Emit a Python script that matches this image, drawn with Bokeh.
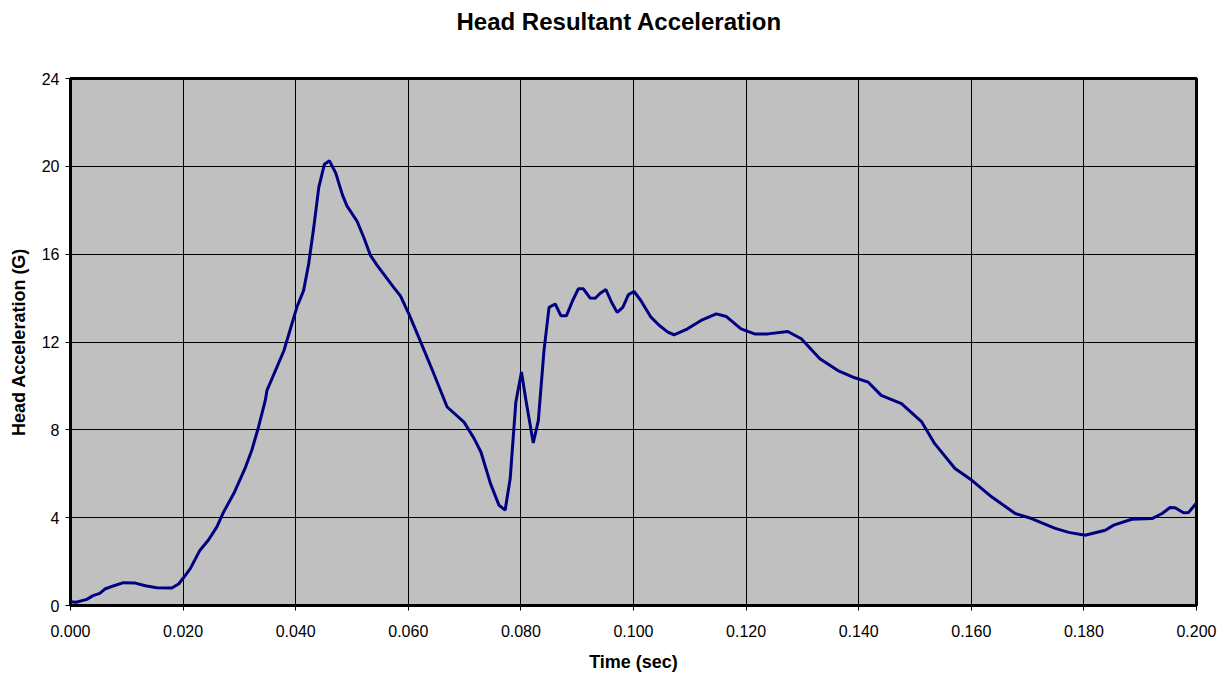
from bokeh.plotting import figure
from bokeh.embed import file_html
from bokeh.resources import INLINE
from bokeh.models import FixedTicker, NumeralTickFormatter, Title

title_text = "Head Resultant Acceleration"
x_label = "Time (sec)"
y_label = "Head Acceleration (G)"

x_ticks = [0.0, 0.02, 0.04, 0.06, 0.08, 0.10, 0.12, 0.14, 0.16, 0.18, 0.20]
y_ticks = [0, 4, 8, 12, 16, 20, 24]

time_s = [0.0000, 0.0010, 0.0029, 0.0040, 0.0052, 0.0061, 0.0076, 0.0094, 0.0115, 0.0133,
          0.0153, 0.0180, 0.0192, 0.0200, 0.0213, 0.0230, 0.0245, 0.0260, 0.0272, 0.0290,
          0.0310, 0.0322, 0.0334, 0.0346, 0.0349, 0.0379, 0.0402, 0.0414, 0.0423, 0.0432,
          0.0441, 0.0451, 0.0460, 0.0471, 0.0483, 0.0491, 0.0509, 0.0521, 0.0533, 0.0545,
          0.0574, 0.0586, 0.0601, 0.0616, 0.0643, 0.0669, 0.0699, 0.0717, 0.0729, 0.0746,
          0.0761, 0.0772, 0.0781, 0.0791, 0.0801, 0.0809, 0.0822, 0.0831, 0.0841, 0.0850,
          0.0861, 0.0871, 0.0881, 0.0892, 0.0902, 0.0911, 0.0923, 0.0932, 0.0941, 0.0951,
          0.0961, 0.0971, 0.0981, 0.0991, 0.1001, 0.1013, 0.1031, 0.1046, 0.1061, 0.1072,
          0.1096, 0.1120, 0.1147, 0.1165, 0.1191, 0.1215, 0.1239, 0.1274, 0.1298, 0.1331,
          0.1363, 0.1393, 0.1417, 0.1440, 0.1476, 0.1512, 0.1535, 0.1571, 0.1601, 0.1636,
          0.1678, 0.1707, 0.1749, 0.1773, 0.1802, 0.1838, 0.1853, 0.1885, 0.1921, 0.1939,
          0.1953, 0.1962, 0.1977, 0.1986, 0.2000]
accel_g = [0.17, 0.15, 0.28, 0.45, 0.55, 0.75, 0.89, 1.04, 1.02, 0.90,
           0.81, 0.80, 0.98, 1.24, 1.69, 2.52, 2.98, 3.58, 4.26, 5.10,
           6.24, 7.07, 8.13, 9.34, 9.80, 11.60, 13.58, 14.34, 15.55, 17.20,
           19.04, 20.10, 20.25, 19.70, 18.70, 18.20, 17.50, 16.76, 15.93, 15.48,
           14.49, 14.10, 13.28, 12.37, 10.70, 9.04, 8.35, 7.60, 6.99, 5.55,
           4.57, 4.34, 5.78, 9.26, 10.63, 9.34, 7.40, 8.43, 11.61, 13.58,
           13.73, 13.20, 13.20, 13.89, 14.42, 14.42, 14.00, 13.99, 14.22, 14.39,
           13.81, 13.35, 13.58, 14.16, 14.30, 13.89, 13.13, 12.75, 12.45, 12.33,
           12.60, 12.98, 13.28, 13.16, 12.60, 12.37, 12.37, 12.48, 12.15, 11.24,
           10.70, 10.37, 10.17, 9.57, 9.19, 8.36, 7.37, 6.24, 5.70, 4.95,
           4.19, 3.96, 3.51, 3.33, 3.20, 3.43, 3.66, 3.93, 3.96, 4.19,
           4.46, 4.45, 4.22, 4.24, 4.67]

FONT = "Liberation Sans"

p = figure(width=1225, height=676, x_range=(0, 0.2), y_range=(0, 24),
           output_backend="svg", toolbar_location=None,
           min_border_left=70, min_border_right=29, min_border_top=78, min_border_bottom=71,
           background_fill_color="#C0C0C0", border_fill_color="white")

# blank spacer between the frame and the title
spacer = Title(text=" ", text_font=FONT, text_font_size="10px", standoff=22)
p.add_layout(spacer, "above")

t = Title(text=title_text, align="left", vertical_align="top", offset=386,
          text_font=FONT, text_font_size="24px",
          text_font_style="bold", text_color="black", standoff=14)
p.add_layout(t, "above")

p.line(time_s, accel_g, line_color="#000080", line_width=3)

p.outline_line_color = "black"
p.outline_line_width = 3

p.xgrid.ticker = FixedTicker(ticks=x_ticks)
p.ygrid.ticker = FixedTicker(ticks=y_ticks)
p.grid.grid_line_color = "black"
p.grid.grid_line_width = 1

p.xaxis.ticker = FixedTicker(ticks=x_ticks)
p.yaxis.ticker = FixedTicker(ticks=y_ticks)
p.xaxis.formatter = NumeralTickFormatter(format="0.000")

for ax in (p.xaxis[0], p.yaxis[0]):
    ax.axis_line_color = None
    ax.major_tick_in = 0
    ax.major_tick_out = 5
    ax.major_tick_line_color = "black"
    ax.minor_tick_line_color = None
    ax.major_label_text_font = FONT
    ax.major_label_text_font_size = "16px"
    ax.major_label_text_color = "black"
    ax.axis_label_text_font = FONT
    ax.axis_label_text_font_size = "18px"
    ax.axis_label_text_font_style = "bold"
    ax.axis_label_text_color = "black"

p.xaxis.axis_label = x_label
p.yaxis.axis_label = y_label
p.xaxis.major_label_standoff = 14
p.yaxis.major_label_standoff = 6
p.xaxis.axis_label_standoff = 12
p.yaxis.axis_label_standoff = 10

open("out.html", "w").write(file_html(p, INLINE))
